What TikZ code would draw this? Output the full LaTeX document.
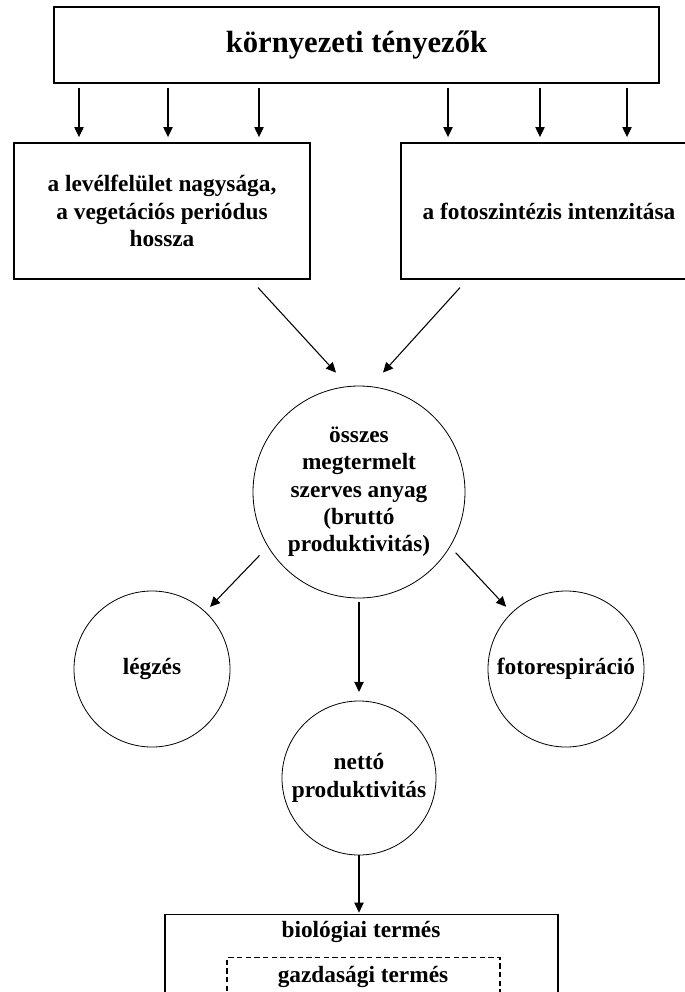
\documentclass[tikz,border=0pt]{standalone}
\usepackage{fontspec}
\setmainfont{Liberation Serif}
\usepackage{tikz}
\usetikzlibrary{arrows.meta}
\usetikzlibrary{positioning}
\usetikzlibrary{calc}
\tikzset{
    box/.style={draw=black, line width=0.9pt, rectangle, inner sep=0pt,
        minimum width=222pt, minimum height=102pt, align=center},
    bubble/.style={draw=black, line width=0.6pt, circle, inner sep=0pt,
        minimum size=117pt, align=center},
    dashbox/.style={draw=black, line width=0.8pt, dash pattern=on 4pt off 2.5pt,
        rectangle, inner sep=0pt},
    flow/.style={draw=black, line width=0.8pt, ->},
    lbl/.style={inner sep=0pt, align=center},
}
\tikzset{>={Triangle[length=7.5pt,width=7pt]}}

\begin{document}
\begin{tikzpicture}[x=0.75pt, y=-0.75pt,
    font=\fontsize{17.5}{20.5}\selectfont\bfseries]
\useasboundingbox (0,0) rectangle (685,992);
\clip (0,0) rectangle (685,992);

%TOP
\node [box, minimum width=453.75pt, minimum height=57pt,
    font=\fontsize{23}{26}\selectfont\bfseries] (env) at (356.5,45) {környezeti tényezők};

%LEFT AND RIGHT BOXES
\node [box] (leaf) at (162,211) {a levélfelület nagysága,\\ a vegetációs periódus\\ hossza};
\node [box] (photo) at (549,211) {a fotoszintézis intenzitása};
\foreach \xx in {79,168,259}
    \draw [flow, shorten <=3pt, shorten >=4pt] (env.south -| \xx,0) -- (leaf.north -| \xx,0);
\foreach \xx in {448,540,627}
    \draw [flow, shorten <=3pt, shorten >=4pt] (env.south -| \xx,0) -- (photo.north -| \xx,0);

%GROSS PRODUCTION
\node [bubble, minimum size=159pt] (gross) at (359,492)
    {összes\\ megtermelt\\ szerves anyag\\ (bruttó\\ produktivitás)};
\draw [flow] ($(leaf.south)+(96,8)$) -- ($(gross.north)+(-23,-13)$);
\draw [flow] ($(photo.south)+(-89,8)$) -- ($(gross.north)+(24,-13)$);

%LOSSES
\node [bubble] (resp) at (152,669) {légzés};
\node [bubble] (photoresp) at (566,669) {fotorespiráció};
\draw [flow, shorten <=9pt, shorten >=5pt] (gross.211) -- (resp.47);
\draw [flow, shorten <=6pt, shorten >=6pt] (gross.329) -- (photoresp.134);

%NET PRODUCTION
\node [bubble, minimum size=115.5pt] (net) at (359,778) {nettó\\ produktivitás};
\draw [flow, shorten <=3pt, shorten >=6.5pt] (gross.south) -- (net.north);

%YIELD
\node [box, minimum width=294.75pt, minimum height=87pt, anchor=north] (bio) at (361.5,914) {};
\node [lbl] (biotitle) at (361,932) {biológiai termés};
\node [dashbox, minimum width=204.75pt, minimum height=37.5pt, anchor=north] (econ) at (363.5,957) {};
\node [lbl] (econtitle) at (363,977) {gazdasági termés};
\draw [flow, shorten >=1pt] (net.south) -- (net.south |- bio.north);
\end{tikzpicture}
\end{document}
